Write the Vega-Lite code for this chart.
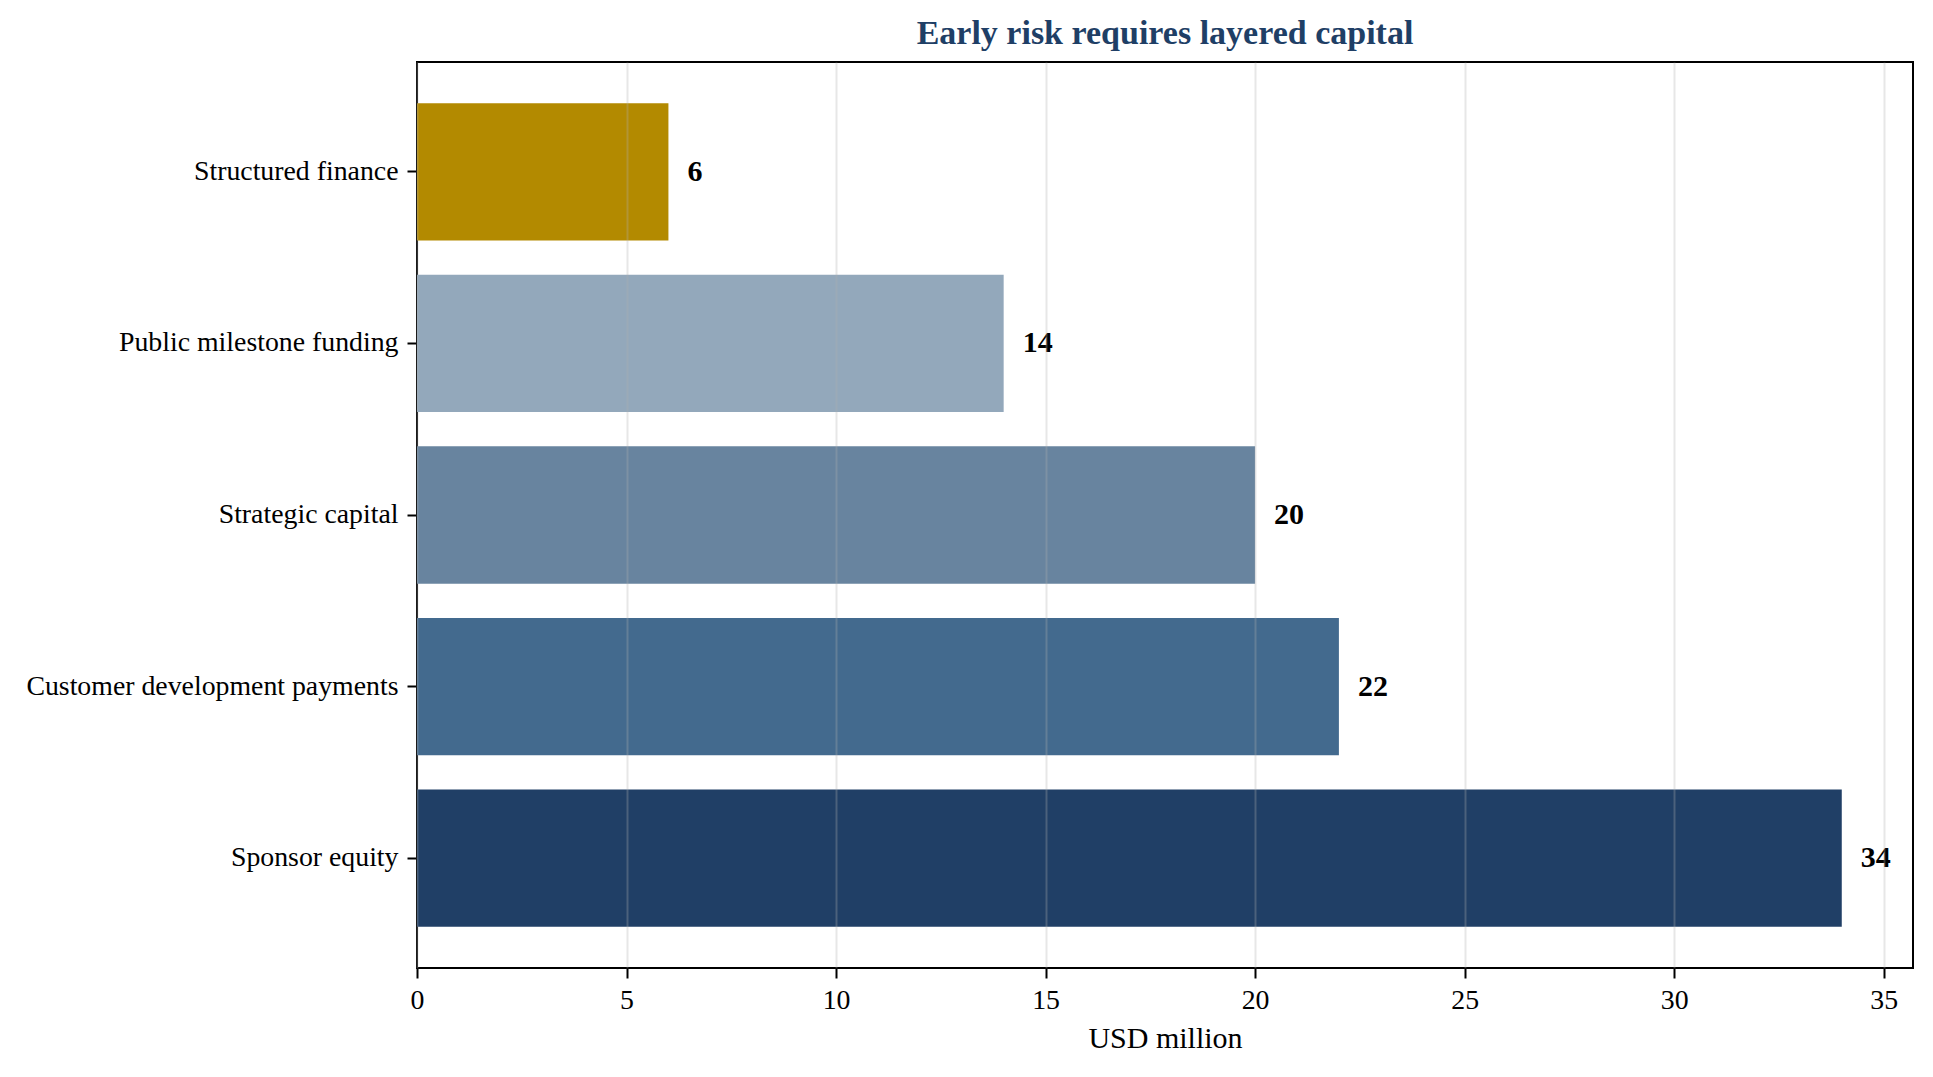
{
  "$schema": "https://vega.github.io/schema/vega-lite/v6.json",
  "autosize": "none",
  "padding": {"left": 417, "top": 62, "right": 20, "bottom": 109},
  "width": 1496,
  "height": 906,
  "background": "white",
  "title": {
    "text": "Early risk requires layered capital",
    "font": "Liberation Serif",
    "fontSize": 34,
    "fontWeight": "bold",
    "color": "#1f3f66",
    "anchor": "middle",
    "offset": 11
  },
  "data": {
    "values": [
      {"source": "Structured finance", "usd_m": 6},
      {"source": "Public milestone funding", "usd_m": 14},
      {"source": "Strategic capital", "usd_m": 20},
      {"source": "Customer development payments", "usd_m": 22},
      {"source": "Sponsor equity", "usd_m": 34}
    ]
  },
  "encoding": {
    "y": {
      "field": "source",
      "type": "nominal",
      "sort": ["Structured finance", "Public milestone funding", "Strategic capital", "Customer development payments", "Sponsor equity"],
      "scale": {"paddingInner": 0.2, "paddingOuter": 0.24},
      "axis": {
        "title": null,
        "labelFontSize": 27.8,
        "labelColor": "black",
        "labelPadding": 9,
        "tickSize": 10,
        "tickWidth": 2,
        "tickColor": "black",
        "domain": false,
        "grid": false,
        "labelLimit": 600
      }
    },
    "x": {
      "field": "usd_m",
      "type": "quantitative",
      "scale": {"domain": [0, 35.7], "nice": false, "zero": true},
      "axis": {
        "title": "USD million",
        "titleFontSize": 30,
        "titleFontWeight": "normal",
        "titleColor": "black",
        "titlePadding": 10,
        "values": [0, 5, 10, 15, 20, 25, 30, 35],
        "labelFontSize": 27.8,
        "labelColor": "black",
        "labelPadding": 8,
        "labelFlush": false,
        "tickSize": 10,
        "tickWidth": 2,
        "tickColor": "black",
        "domain": false,
        "grid": true,
        "gridColor": "#b0b0b0",
        "gridOpacity": 0.3,
        "gridWidth": 2,
        "zindex": 1
      }
    }
  },
  "layer": [
    {
      "mark": {"type": "bar"},
      "encoding": {
        "color": {
          "field": "source",
          "type": "nominal",
          "legend": null,
          "scale": {
            "domain": ["Structured finance", "Public milestone funding", "Strategic capital", "Customer development payments", "Sponsor equity"],
            "range": ["#b38a00", "#93a8bb", "#68849f", "#436a8e", "#203f66"]
          }
        }
      }
    },
    {
      "mark": {
        "type": "text",
        "align": "left",
        "baseline": "middle",
        "dx": 19,
        "fontSize": 30,
        "fontWeight": "bold",
        "color": "black"
      },
      "encoding": {
        "text": {"field": "usd_m", "type": "quantitative"}
      }
    }
  ],
  "config": {
    "font": "Liberation Serif",
    "view": {"stroke": "black", "strokeWidth": 2},
    "axis": {"labelFont": "Liberation Serif", "titleFont": "Liberation Serif"}
  }
}
